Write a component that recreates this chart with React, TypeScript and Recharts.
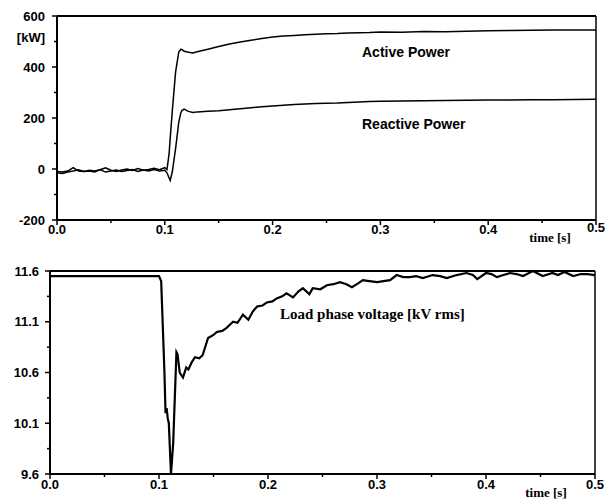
import { LineChart, Line, XAxis, YAxis, ReferenceLine } from "recharts";

// ---- upper plot: active / reactive power [kW] ----
const powerTime = [
  0, 0.005, 0.01, 0.015, 0.02, 0.025, 0.03, 0.035, 0.04, 0.045,
  0.05, 0.055, 0.06, 0.065, 0.07, 0.075, 0.08, 0.085, 0.09, 0.095,
  0.1, 0.102, 0.104, 0.105, 0.107, 0.11, 0.113, 0.115, 0.116, 0.118,
  0.12, 0.122, 0.126, 0.13, 0.14, 0.15, 0.16, 0.17, 0.18, 0.19,
  0.2, 0.21, 0.22, 0.23, 0.24, 0.25, 0.26, 0.27, 0.28, 0.29,
  0.3, 0.32, 0.34, 0.36, 0.38, 0.4, 0.42, 0.44, 0.46, 0.48, 0.5,
];
const activePower = [
  -10, -12, -8, 5, -8, -10, -5, -8, -3, 5,
  -5, -10, -4, 0, -6, 2, -5, -2, 3, -3,
  5, -2, 60, 120, 230, 380, 460, 470, 468, 462,
  460, 458, 455, 460, 470, 480, 490, 498, 505, 512,
  518, 522, 524, 526, 528, 530, 531, 533, 534, 535,
  537, 536, 539, 538, 540, 542, 543, 544, 545, 545, 545,
];
const reactivePower = [
  -15, -18, -12, -8, -3, -10, -8, -12, -2, -12,
  -8, -4, -10, -6, -2, -10, -4, -8, -2, -8,
  -5, -15, -35, -45, -10, 80, 185, 222, 230, 235,
  230, 226, 222, 224, 226, 228, 232, 236, 240, 244,
  247, 250, 253, 255, 257, 258, 259, 261, 263, 265,
  266, 267, 268, 269, 270, 271, 271, 272, 272, 273, 274,
];

// ---- lower plot: load phase voltage [kV rms] ----
const voltTime = [
  0, 0.05, 0.1, 0.102, 0.103, 0.105, 0.106, 0.107, 0.108, 0.109,
  0.111, 0.113, 0.115, 0.116, 0.117, 0.119, 0.122, 0.125, 0.127, 0.13,
  0.133, 0.137, 0.14, 0.145, 0.15, 0.153, 0.158, 0.162, 0.165, 0.168,
  0.172, 0.177, 0.182, 0.186, 0.19, 0.195, 0.199, 0.204, 0.208, 0.213,
  0.217, 0.223, 0.228, 0.232, 0.238, 0.241, 0.248, 0.254, 0.26, 0.266,
  0.272, 0.277, 0.283, 0.287, 0.293, 0.3, 0.306, 0.312, 0.318, 0.324,
  0.33, 0.336, 0.342, 0.351, 0.358, 0.364, 0.373, 0.382, 0.388, 0.392,
  0.4, 0.405, 0.41, 0.416, 0.422, 0.428, 0.434, 0.443, 0.452, 0.461,
  0.466, 0.472, 0.48, 0.487, 0.493, 0.5,
];
const loadVoltage = [
  11.55, 11.55, 11.55, 11.5, 11.2, 10.6, 10.2, 10.25, 10.15, 10.1,
  9.6, 9.9, 10.5, 10.8, 10.78, 10.6, 10.55, 10.65, 10.63, 10.7,
  10.75, 10.74, 10.77, 10.94, 10.97, 11.0, 11.01, 11.04, 11.07, 11.1,
  11.09, 11.17, 11.12, 11.2, 11.25, 11.26, 11.29, 11.3, 11.33, 11.35,
  11.38, 11.34, 11.4, 11.43, 11.37, 11.43, 11.42, 11.46, 11.47, 11.49,
  11.47, 11.44, 11.48, 11.51, 11.5, 11.49, 11.5, 11.51, 11.56, 11.54,
  11.54, 11.55, 11.53, 11.56, 11.55, 11.53, 11.56, 11.58, 11.56, 11.52,
  11.58, 11.57, 11.54, 11.56, 11.58, 11.57, 11.55, 11.6, 11.55, 11.58,
  11.56, 11.59, 11.55, 11.57, 11.57, 11.56,
];

const timeTicks = [0, 0.05, 0.1, 0.15, 0.2, 0.25, 0.3, 0.35, 0.4, 0.45, 0.5];
const powerTicks = [-200, -100, 0, 100, 200, 300, 400, 500, 600];
const voltTicks = [9.6, 9.85, 10.1, 10.35, 10.6, 10.85, 11.1, 11.35, 11.6];

const powerData = powerTime.map((t, i) => ({
  t,
  active: activePower[i],
  reactive: reactivePower[i],
}));
const voltData = voltTime.map((t, i) => ({ t, v: loadVoltage[i] }));

const SANS = "'Liberation Sans', Arial, sans-serif";
const SERIF = "'Liberation Serif', 'Times New Roman', serif";

// x ticks: major every 0.1 with label, minor at 0.05; "time [s]" next to the last one
function timeTick(labelDy: number, lastDy: number, unitDy: number, unitDx: number) {
  return (props: any) => {
    const { x, y, payload, index } = props;
    const major = index % 2 === 0;
    const last = index === timeTicks.length - 1;
    return (
      <g>
        <line x1={x} x2={x} y1={y - 5} y2={major ? y : y - 2} stroke="#000" strokeWidth={1.5} />
        {major && (
          <text x={x} y={y + (last ? lastDy : labelDy)} textAnchor="middle" fontFamily={SANS} fontWeight="bold" fontSize={13} fill="#000">
            {payload.value.toFixed(1)}
          </text>
        )}
        {last && (
          <text x={x - unitDx} y={y + unitDy} textAnchor="middle" fontFamily={SERIF} fontWeight="bold" fontSize={13} fill="#000">
            time [s]
          </text>
        )}
      </g>
    );
  };
}

function valueTick(textDx: number, format: (v: number) => string, unit?: { at: number; text: string }) {
  return (props: any) => {
    const { x, y, payload, index } = props;
    const major = index % 2 === 0;
    return (
      <g>
        <line x1={major ? x : x + 2} x2={x + 5} y1={y} y2={y} stroke="#000" strokeWidth={1.5} />
        {major && (
          <text x={x - textDx} y={y + 4.5} textAnchor="end" fontFamily={SANS} fontWeight="bold" fontSize={13} fill="#000">
            {format(payload.value)}
          </text>
        )}
        {unit && payload.value === unit.at && (
          <text x={x - textDx} y={y} textAnchor="end" fontFamily={SANS} fontWeight="bold" fontSize={13} fill="#000">
            {unit.text}
          </text>
        )}
      </g>
    );
  };
}

const label = (left: number, top: number, font: string, size: number) => ({
  position: "absolute" as const,
  left,
  top,
  fontFamily: font,
  fontWeight: "bold" as const,
  fontSize: size,
  lineHeight: `${size}px`,
  whiteSpace: "nowrap" as const,
  color: "#000",
});

export default function App() {
  return (
    <div style={{ position: "absolute", left: 0, top: 0, width: 610, height: 500, background: "#fff" }}>
      {/* Active / reactive power */}
      <div style={{ position: "absolute", left: 0, top: 0 }}>
        <LineChart width={610} height={250} data={powerData} margin={{ top: 16, right: 14, bottom: 10, left: 0 }}>
          <XAxis
            dataKey="t"
            type="number"
            domain={[0, 0.5]}
            ticks={timeTicks}
            interval={0}
            tickSize={5}
            tickMargin={0}
            tickLine={false}
            tick={timeTick(9, 7, 17, 46)}
            height={20}
            axisLine={{ stroke: "#000", strokeWidth: 2 }}
          />
          <YAxis
            type="number"
            domain={[-200, 600]}
            ticks={powerTicks}
            interval={0}
            tickSize={5}
            tickMargin={0}
            tickLine={false}
            tick={valueTick(7, (v) => String(v), { at: 500, text: "[kW]" })}
            width={57}
            axisLine={{ stroke: "#000", strokeWidth: 2 }}
          />
          {/* top and right frame */}
          <ReferenceLine y={600} stroke="#000" strokeWidth={2} />
          <ReferenceLine x={0.5} stroke="#000" strokeWidth={1.5} />
          <Line type="linear" dataKey="active" stroke="#000" strokeWidth={1.5} dot={false} isAnimationActive={false} />
          <Line type="linear" dataKey="reactive" stroke="#000" strokeWidth={1.5} dot={false} isAnimationActive={false} />
        </LineChart>
      </div>
      <div style={label(362, 45, SANS, 14)}>Active Power</div>
      <div style={label(362, 117, SANS, 14)}>Reactive Power</div>

      {/* Load phase voltage */}
      <div style={{ position: "absolute", left: 0, top: 250 }}>
        <LineChart width={610} height={250} data={voltData} margin={{ top: 21, right: 15, bottom: 6, left: 0 }}>
          <XAxis
            dataKey="t"
            type="number"
            domain={[0, 0.5]}
            ticks={timeTicks}
            interval={0}
            tickSize={5}
            tickMargin={0}
            tickLine={false}
            tick={timeTick(10, 10, 18, 49)}
            height={20}
            axisLine={{ stroke: "#000", strokeWidth: 2 }}
          />
          <YAxis
            type="number"
            domain={[9.6, 11.6]}
            ticks={voltTicks}
            interval={0}
            tickSize={5}
            tickMargin={0}
            tickLine={false}
            tick={valueTick(6, (v) => v.toFixed(1))}
            width={50}
            axisLine={{ stroke: "#000", strokeWidth: 2 }}
          />
          <ReferenceLine y={11.6} stroke="#000" strokeWidth={2} />
          <ReferenceLine x={0.5} stroke="#000" strokeWidth={1.5} />
          <Line type="linear" dataKey="v" stroke="#000" strokeWidth={2.2} dot={false} isAnimationActive={false} />
        </LineChart>
      </div>
      <div style={label(280, 307, SERIF, 15)}>Load phase voltage [kV rms]</div>
    </div>
  );
}
